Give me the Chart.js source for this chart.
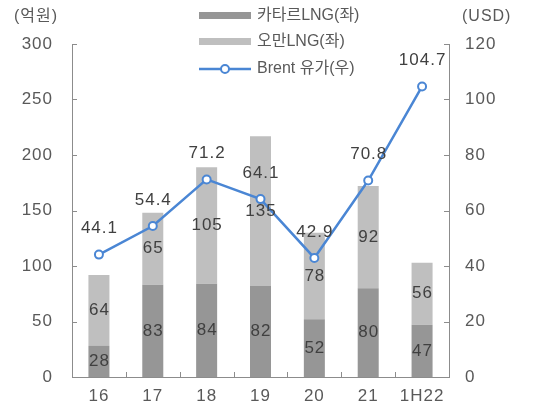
<!DOCTYPE html>
<html><head><meta charset="utf-8">
<script src="https://cdn.jsdelivr.net/npm/chart.js@4/dist/chart.umd.min.js"></script>
<style>html,body{margin:0;padding:0;background:#fff}#wrap{width:537px;height:410px}</style>
</head><body><div id="wrap"><canvas id="c" width="537" height="410"></canvas></div>
<script>
const categories = ['16','17','18','19','20','21','1H22'];
const qatar = [28, 83, 84, 82, 52, 80, 47];
const oman = [64, 65, 105, 135, 78, 92, 56];
const brent = [44.1, 54.4, 71.2, 64.1, 42.9, 70.8, 104.7];
const leftTicks = [0, 50, 100, 150, 200, 250, 300];
const rightTicks = [0, 20, 40, 60, 80, 100, 120];
const seriesNames = ['카타르LNG(좌)', '오만LNG(좌)', 'Brent 유가(우)'];
const leftUnit = '(억원)';
const rightUnit = '(USD)';

const FONT = "'Liberation Sans','Noto Sans CJK KR',sans-serif";
const DARK = '#969696', LIGHT = '#bfbfbf', BLUE = '#4a86d4';
const AXIS = '#8c8c8c', TXT = '#595959', LBL = '#404040';
const SP = '1px';

const overlay = {
  id: 'overlay',
  beforeDraw(chart) { chart.ctx.letterSpacing = SP; },
  afterDatasetsDraw(chart) {
    const ctx = chart.ctx;
    const ca = chart.chartArea;
    const x = chart.scales.x, yl = chart.scales.y, yr = chart.scales.y2;
    ctx.save();
    ctx.strokeStyle = AXIS; ctx.lineWidth = 1;
    ctx.beginPath();
    leftTicks.forEach(v => { const p = Math.round(yl.getPixelForValue(v)) + 0.5; ctx.moveTo(ca.left, p); ctx.lineTo(ca.left + 5, p); });
    rightTicks.forEach(v => { const p = Math.round(yr.getPixelForValue(v)) + 0.5; ctx.moveTo(ca.right, p); ctx.lineTo(ca.right - 5, p); });
    for (let i = 1; i < categories.length; i++) {
      const p = Math.round((x.getPixelForValue(i - 1) + x.getPixelForValue(i)) / 2) + 0.5;
      ctx.moveTo(p, ca.bottom); ctx.lineTo(p, ca.bottom - 5);
    }
    ctx.stroke();
    ctx.letterSpacing = SP;
    ctx.font = '17px ' + FONT;
    ctx.fillStyle = LBL; ctx.textAlign = 'center'; ctx.textBaseline = 'middle';
    [0, 1].forEach(di => {
      const meta = chart.getDatasetMeta(di);
      meta.data.forEach((el, i) => {
        const v = chart.data.datasets[di].data[i];
        ctx.fillText(String(v), el.x + 0.5, (el.y + el.base) / 2);
      });
    });
    const lm = chart.getDatasetMeta(2);
    lm.data.forEach((el, i) => {
      ctx.fillText(brent[i].toFixed(1), el.x + 0.5, el.y - 26);
    });
    ctx.fillStyle = TXT; ctx.textAlign = 'left';
    ctx.font = '16px ' + FONT;
    ctx.letterSpacing = '1px';
    ctx.fillText(leftUnit, 14, 17);
    ctx.fillText(rightUnit, 462, 17);
    ctx.letterSpacing = '0px';
    const lx = 199, lw = 52, tx = 257;
    const rows = [16, 42, 69];
    ctx.fillStyle = DARK; ctx.fillRect(lx, rows[0] - 4, lw, 7);
    ctx.fillStyle = LIGHT; ctx.fillRect(lx, rows[1] - 4, lw, 7);
    ctx.strokeStyle = BLUE; ctx.lineWidth = 2.5;
    ctx.beginPath(); ctx.moveTo(lx, rows[2]); ctx.lineTo(lx + lw, rows[2]); ctx.stroke();
    ctx.fillStyle = '#fff'; ctx.lineWidth = 2;
    ctx.beginPath(); ctx.arc(lx + lw / 2, rows[2], 4, 0, Math.PI * 2); ctx.fill(); ctx.stroke();
    ctx.fillStyle = TXT;
    seriesNames.forEach((n, i) => ctx.fillText(n, tx, rows[i]));
    ctx.restore();
  }
};

new Chart(document.getElementById('c'), {
  data: {
    labels: categories,
    datasets: [
      { type: 'bar', label: seriesNames[0], data: qatar, backgroundColor: DARK, yAxisID: 'y', stack: 's', order: 2,
        barPercentage: 0.39, categoryPercentage: 1 },
      { type: 'bar', label: seriesNames[1], data: oman, backgroundColor: LIGHT, yAxisID: 'y', stack: 's', order: 2,
        barPercentage: 0.39, categoryPercentage: 1 },
      { type: 'line', label: seriesNames[2], data: brent, yAxisID: 'y2', order: 0,
        borderColor: BLUE, borderWidth: 2.5, backgroundColor: '#fff',
        pointRadius: 4, pointBorderWidth: 2, pointBackgroundColor: '#fff', pointBorderColor: BLUE, tension: 0 }
    ]
  },
  options: {
    responsive: false, animation: false,
    layout: { padding: { top: 44, left: 0, right: 0, bottom: 0 } },
    plugins: { legend: { display: false }, tooltip: { enabled: false } },
    scales: {
      x: { stacked: true, grid: { display: false, drawTicks: false }, border: { color: AXIS },
        ticks: { color: TXT, font: { size: 17, family: FONT }, padding: 9 },
        afterFit(s) { s.height = 33; } },
      y: { stacked: true, position: 'left', min: 0, max: 300,
        afterBuildTicks(s) { s.ticks = leftTicks.map(v => ({ value: v })); },
        grid: { display: false, drawTicks: false }, border: { color: AXIS },
        ticks: { color: TXT, font: { size: 17, family: FONT }, padding: 19 },
        afterFit(s) { s.width = 72; } },
      y2: { position: 'right', min: 0, max: 120,
        afterBuildTicks(s) { s.ticks = rightTicks.map(v => ({ value: v })); },
        grid: { display: false, drawTicks: false }, border: { color: AXIS },
        ticks: { color: TXT, font: { size: 17, family: FONT }, padding: 16 },
        afterFit(s) { s.width = 88; } }
    }
  },
  plugins: [overlay]
});
</script></body></html>
